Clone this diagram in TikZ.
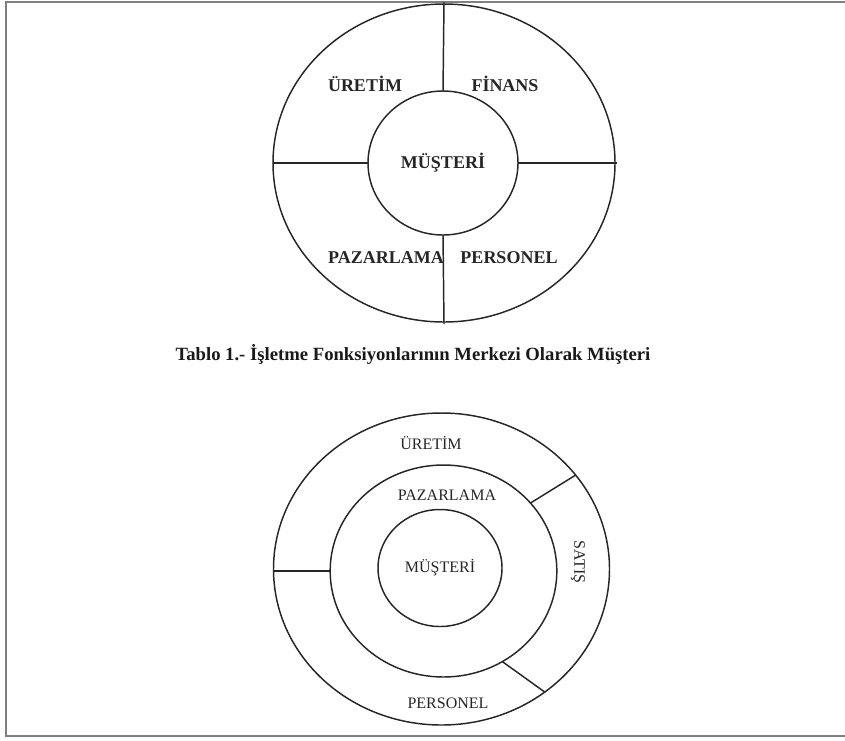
\documentclass[tikz,border=0pt]{standalone}
\usepackage{fontspec}
\setmainfont{Liberation Serif}
\usetikzlibrary{shapes.geometric}
\begin{document}
\begin{tikzpicture}[x=0.75pt,y=-0.75pt,
  ring/.style={draw=black!85, line width=1.1pt, ellipse, inner sep=0pt, outer sep=0pt},
  divider/.style={draw=black!85, line width=1.1pt},
  toplabel/.style={font=\fontsize{13.5}{16}\selectfont\bfseries, text=black!85, inner sep=0pt},
  botlabel/.style={font=\fontsize{12}{14}\selectfont, text=black!85, inner sep=0pt},
  captionstyle/.style={font=\fontsize{14}{17}\selectfont\bfseries, text=black!90, inner sep=0pt},
  framestyle/.style={draw=black!50, line width=1.6pt}]
\useasboundingbox (0,0) rectangle (845,740);
% frame
\coordinate (fTR) at (845,2);
\coordinate (fTL) at (6,2);
\coordinate (fBL) at (6,736);
\coordinate (fBR) at (845,736);
\draw[framestyle] (fTR) -- (fTL) -- (fBL) -- (fBR);

% ---------- top diagram ----------
\node[ring, minimum width=256.5pt, minimum height=238.5pt] (tOut) at (444,163) {};
\node[ring, minimum width=112.5pt, minimum height=108pt, toplabel] (tIn) at (443,163) {MÜŞTERİ};
\draw[divider] ([yshift=1.5pt]tOut.north) -- (tIn.north);
\draw[divider] (tIn.south) -- ([yshift=-1.5pt]tOut.south);
\draw[divider] (tOut.west) -- (tIn.west);
\draw[divider] (tIn.east) -- ([xshift=1.5pt]tOut.east);
\node[toplabel] (tUr) at (365,84) {ÜRETİM};
\node[toplabel] (tFi) at (505,84) {FİNANS};
\node[toplabel] (tPa) at (386,258) {PAZARLAMA};
\node[toplabel] (tPe) at (509,258) {PERSONEL};

% caption
\node[captionstyle] (cap) at (413,355) {Tablo 1.- İşletme Fonksiyonlarının Merkezi Olarak Müşteri};

% ---------- bottom diagram ----------
\node[ring, minimum width=252pt, minimum height=234pt] (bOut) at (441.5,569) {};
\node[ring, minimum width=170pt, minimum height=159pt] (bMid) at (443.5,571) {};
\node[ring, minimum width=93pt, minimum height=87.75pt, botlabel] (bIn) at (440,568) {MÜŞTERİ};
\draw[divider] (bOut.west |- bMid.west) -- (bMid.west);
\draw[divider] (bMid.38) -- (bOut.35);
\draw[divider] (bMid.-57) -- (bOut.-50);
\node[botlabel] (bUr) at (431,443) {ÜRETİM};
\node[botlabel] (bPa) at (447,495) {PAZARLAMA};
\node[botlabel, rotate=-90] (bSa) at (578,562) {SATIŞ};
\node[botlabel] (bPe) at (448,703) {PERSONEL};
\end{tikzpicture}
\end{document}
